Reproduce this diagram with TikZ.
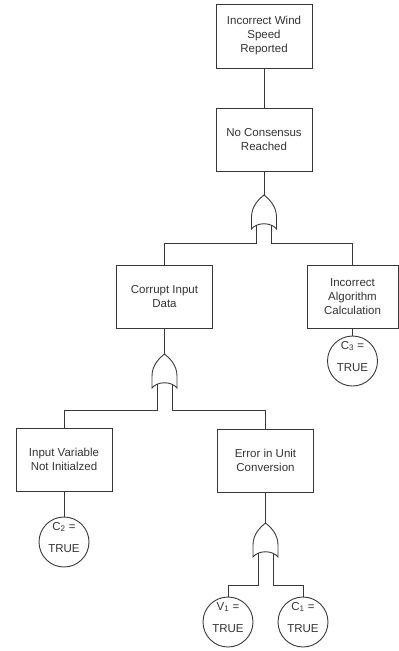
\documentclass[tikz,border=0pt]{standalone}
\usepackage{fontspec}
\setmainfont{Liberation Sans}
\begin{document}
\begin{tikzpicture}[x=1pt,y=-1pt,
  line/.style={draw=black!78, line width=0.9pt},
  event/.style={line, rectangle, minimum width=96pt, minimum height=63pt,
    align=center, inner sep=2pt, text=black!80,
    font=\fontsize{11.5}{14}\selectfont},
  basic/.style={line, circle, minimum size=50pt, inner sep=0pt},
  evtxt/.style={inner sep=0pt, text=black!80, font=\fontsize{11.5}{14}\selectfont},
  orgate/.pic={
    \draw[line] (0,0) .. controls (-5,4) and (-12.5,11) .. (-12.5,22)
      -- (-12.5,34) .. controls (-7,27) and (7,27) .. (12.5,34)
      -- (12.5,22) .. controls (12.5,11) and (5,4) .. (0,0) -- cycle;
    \coordinate (-apex) at (0,0);
    \coordinate (-l) at (-7.5,30.2);
    \coordinate (-r) at (7.5,30.2);
  }]
\useasboundingbox (0,0) rectangle (399,651);

% events
\node[event, minimum height=64pt] (top) at (264,36) {Incorrect Wind\\Speed\\Reported};
\node[event] (cons) at (264,139.5) {No Consensus\\Reached};
\node[event] (corr) at (164.5,296.5) {Corrupt Input\\Data};
\node[event, minimum width=91pt] (algo) at (352.5,296.5) {Incorrect\\Algorithm\\Calculation};
\node[event] (inp) at (64,459.5) {Input Variable\\Not Initialzed};
\node[event] (unit) at (265.5,460.5) {Error in Unit\\Conversion};

% OR gates
\pic (g1) at (264,195) {orgate};
\pic (g2) at (164.5,354) {orgate};
\pic (g3) at (265.5,523) {orgate};

% basic events
\node[basic] (c3) at (352.5,361) {};
\node[basic] (c2) at (64,542) {};
\node[basic] (v1) at (228,622) {};
\node[basic] (c1) at (303,622) {};
\foreach \n/\t in {c3/C\textsubscript{3} =, c2/C\textsubscript{2} =, v1/V\textsubscript{1} =, c1/C\textsubscript{1} =}{
  \node[evtxt] (\n-lbl) at ([yshift=15pt]\n.center) {\t};
  \node[evtxt] (\n-val) at ([yshift=-7pt]\n.center) {TRUE};
}

% connectors
\draw[line] (top) -- (cons);
\draw[line] (cons.south) -- (g1-apex);
\draw[line] (g1-l) -- ++(0,18) -| (corr.north);
\draw[line] (g1-r) -- ++(0,18) -| (algo.north);
\draw[line] (algo) -- (c3);
\draw[line] (corr.south) -- (g2-apex);
\draw[line] (g2-l) -- ++(0,26) -| (inp.north);
\draw[line] (g2-r) -- ++(0,26) -| (unit.north);
\draw[line] (inp) -- (c2);
\draw[line] (unit.south) -- (g3-apex);
\draw[line] (g3-l) -- ++(0,32) -| (v1.north);
\draw[line] (g3-r) -- ++(0,32) -| (c1.north);
\end{tikzpicture}
\end{document}
